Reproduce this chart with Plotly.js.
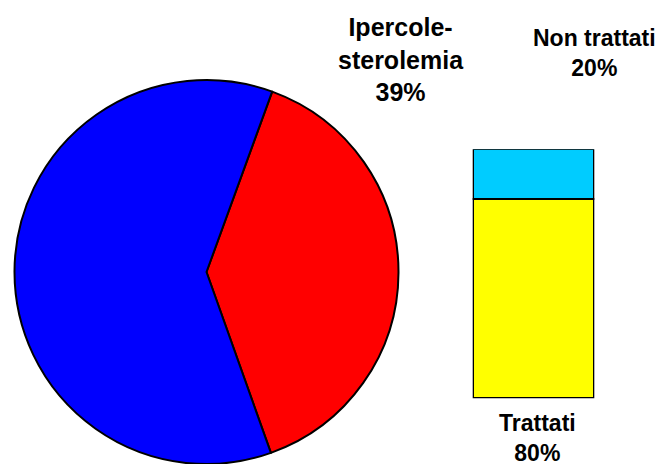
<!DOCTYPE html>
<html>
<head>
<meta charset="utf-8">
<script src="https://cdn.plot.ly/plotly-3.0.1.min.js"></script>
<style>html,body{margin:0;padding:0;background:#fff;}#chart{width:672px;height:464px;}</style>
</head>
<body>
<div id="chart"></div>
<script>
// Pie: hypercholesterolemia share
var pieLabels = ['Ipercolesterolemia', 'Altro'];
var pieValues = [39, 61];
var pieColors = ['#FF0000', '#0000FF'];

// Stacked bar: treated vs untreated
var barLabels = ['Trattati', 'Non trattati'];
var barValues = [80, 20];
var barColors = ['#FFFF00', '#00CCFF'];

var font = {family: 'Liberation Sans, Arial, sans-serif', color: '#000'};

var traces = [
  {
    type: 'pie',
    labels: pieLabels,
    values: pieValues,
    sort: false,
    direction: 'clockwise',
    rotation: 20,
    marker: {colors: pieColors, line: {color: '#000', width: 2}},
    textinfo: 'none',
    hoverinfo: 'none',
    showlegend: false,
    domain: {x: [14.5 / 672, 398.5 / 672], y: [0, 384 / 464]}
  },
  {
    type: 'bar',
    x: ['g'],
    y: [barValues[0]],
    name: barLabels[0],
    marker: {color: barColors[0], line: {color: '#000', width: 2}},
    hoverinfo: 'none',
    showlegend: false
  },
  {
    type: 'bar',
    x: ['g'],
    y: [barValues[1]],
    name: barLabels[1],
    marker: {color: barColors[1], line: {color: '#000', width: 2}},
    hoverinfo: 'none',
    showlegend: false
  }
];

var layout = {
  width: 672,
  height: 464,
  margin: {l: 0, r: 0, t: 0, b: 0},
  paper_bgcolor: '#fff',
  plot_bgcolor: 'rgba(0,0,0,0)',
  barmode: 'stack',
  bargap: 0,
  xaxis: {domain: [472.7 / 672, 594.3 / 672], visible: false, fixedrange: true},
  yaxis: {domain: [65.7 / 464, 314.7 / 464], range: [0, 100], visible: false, fixedrange: true},
  annotations: [
    {
      xref: 'paper', yref: 'paper',
      x: 401 / 672, y: 1 - 59 / 464,
      xanchor: 'center', yanchor: 'middle',
      text: '<b>Ipercole-<br>sterolemia<br>' + pieValues[0] + '%</b>',
      showarrow: false,
      font: Object.assign({size: 25}, font)
    },
    {
      xref: 'paper', yref: 'paper',
      x: 594 / 672, y: 1 - 53 / 464,
      xanchor: 'center', yanchor: 'middle',
      text: '<b>' + barLabels[1] + '<br>' + barValues[1] + '%</b>',
      showarrow: false,
      font: Object.assign({size: 23}, font)
    },
    {
      xref: 'paper', yref: 'paper',
      x: 537.5 / 672, y: 1 - 438 / 464,
      xanchor: 'center', yanchor: 'middle',
      text: '<b>' + barLabels[0] + '<br>' + barValues[0] + '%</b>',
      showarrow: false,
      font: Object.assign({size: 23}, font)
    }
  ]
};

Plotly.newPlot('chart', traces, layout, {staticPlot: true});
</script>
</body>
</html>
